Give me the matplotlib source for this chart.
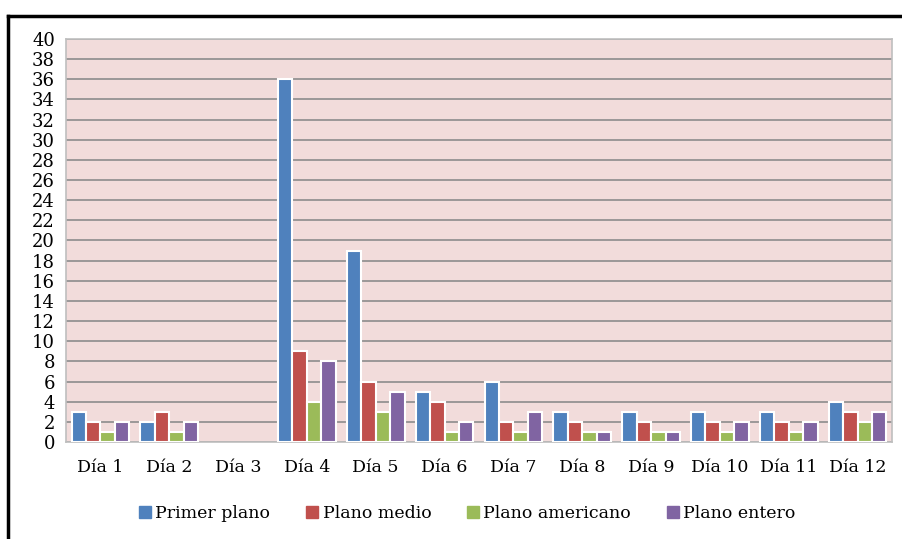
import numpy as np
import matplotlib.pyplot as plt
from matplotlib.lines import Line2D

dias = ["Día 1", "Día 2", "Día 3", "Día 4", "Día 5", "Día 6",
        "Día 7", "Día 8", "Día 9", "Día 10", "Día 11", "Día 12"]
primer_plano = [3, 2, 0, 36, 19, 5, 6, 3, 3, 3, 3, 4]
plano_medio = [2, 3, 0, 9, 6, 4, 2, 2, 2, 2, 2, 3]
plano_americano = [1, 1, 0, 4, 3, 1, 1, 1, 1, 1, 1, 2]
plano_entero = [2, 2, 0, 8, 5, 2, 3, 1, 1, 2, 2, 3]

series = [("Primer plano", primer_plano, "#4F81BD"),
          ("Plano medio", plano_medio, "#C0504D"),
          ("Plano americano", plano_americano, "#9BBB59"),
          ("Plano entero", plano_entero, "#8064A2")]

plt.rcParams["font.family"] = ["DejaVu Serif"]

fig = plt.figure(figsize=(9.03, 5.39), dpi=100)
ax = fig.add_axes([66 / 903, 1 - 442 / 539, 826 / 903, 403 / 539])
ax.set_facecolor("#F2DCDB")

x = np.arange(len(dias))
w = 0.21
for i, (name, vals, color) in enumerate(series):
    # no white outline on empty bars (Día 3)
    lw = [1.5 if v else 0 for v in vals]
    ax.bar(x + (i - 1.5) * w, vals, w, color=color, edgecolor="white",
           linewidth=lw, label=name, zorder=3)

ax.set_xlim(-0.5, len(dias) - 0.5)
ax.set_ylim(0, 40)
ax.set_yticks(range(0, 41, 2))
ax.set_xticks(x)
ax.set_xticklabels(dias, fontsize=12.5)
ax.tick_params(axis="both", length=0)
ax.tick_params(axis="y", labelsize=13, pad=8)
ax.tick_params(axis="x", pad=12)
ax.grid(axis="y", color="#8C8C8C", linewidth=1.2, zorder=1)
for s in ax.spines.values():
    s.set_color("#BFBFBF")
    s.set_linewidth(1.2)

handles = [Line2D([0], [0], marker="s", linestyle="none", markersize=8,
                  markerfacecolor=c, markeredgecolor=c) for _, _, c in series]
fig.legend(handles, [n for n, _, _ in series], loc="center",
           bbox_to_anchor=(466 / 903, 1 - 514 / 539), ncol=4, frameon=False,
           fontsize=12.5, handletextpad=0.1, columnspacing=1.9,
           handlelength=1.0)

# outer frame like the pasted screenshot
fig.add_artist(Line2D([8 / 903, 1], [1 - 16 / 539, 1 - 16 / 539],
                      color="black", linewidth=2.5, transform=fig.transFigure))
fig.add_artist(Line2D([8 / 903, 8 / 903], [0, 1 - 16 / 539],
                      color="black", linewidth=2.5, transform=fig.transFigure))

fig.savefig("out.png", dpi=100)
